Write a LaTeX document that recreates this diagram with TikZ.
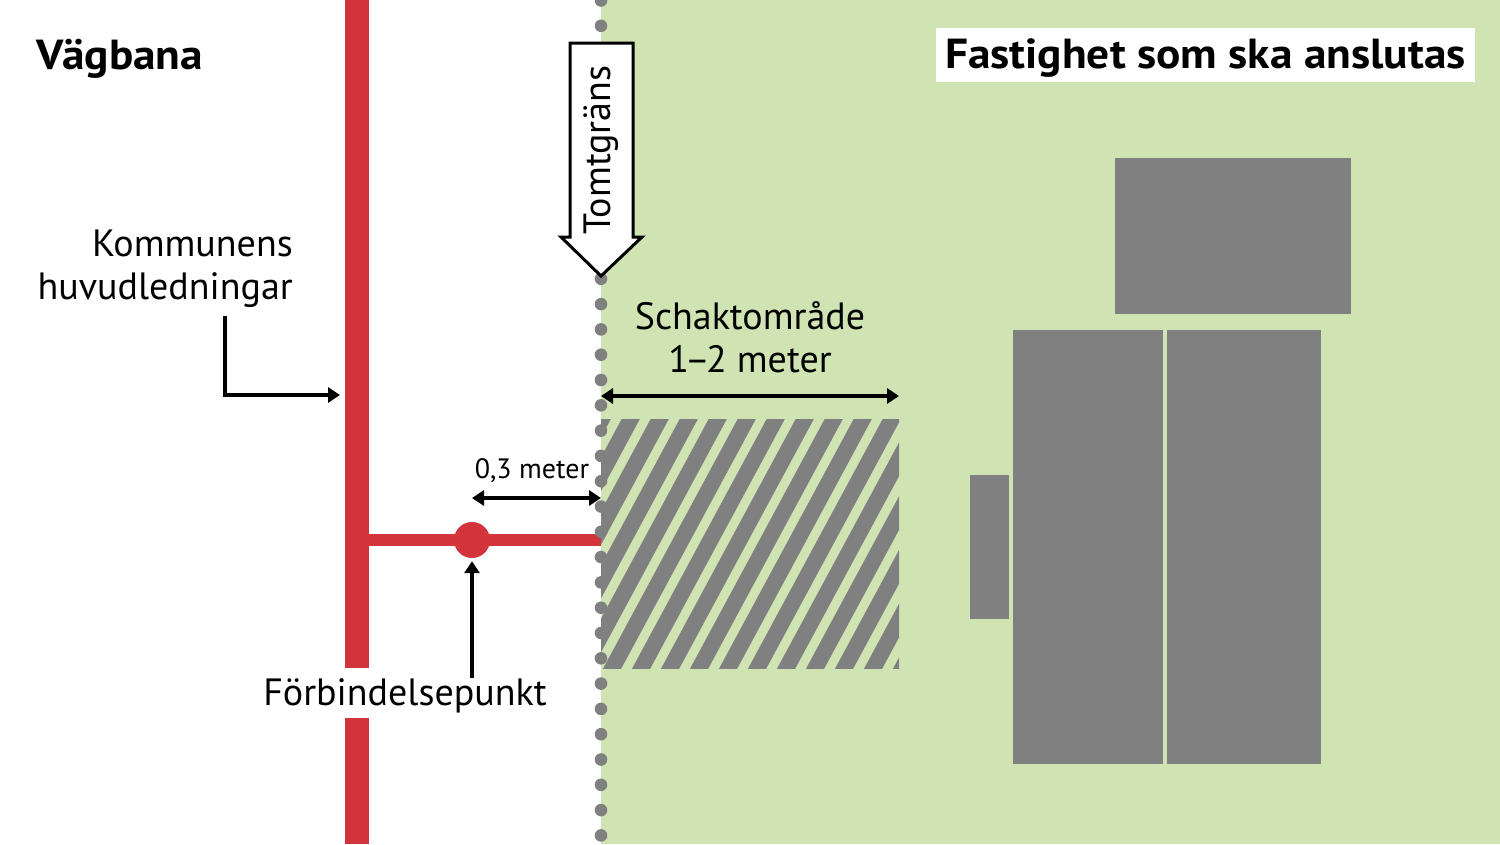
\documentclass[tikz,border=0pt]{standalone}
\usepackage{fontspec}
\setmainfont{PT Sans}
\newfontfamily\titlefont[FakeStretch=1.08]{PT Sans}
\usetikzlibrary{arrows.meta}
\definecolor{lawn}{RGB}{207,228,178}
\definecolor{pipe}{RGB}{209,52,59}
\definecolor{bgrey}{RGB}{128,128,128}
\tikzset{
  lbl/.style={font=\fontsize{38}{44}\selectfont, inner sep=0pt},
  ttl/.style={font=\titlefont\fontsize{42}{48}\selectfont\bfseries, inner sep=0pt},
  arr/.style={line width=4pt, -{Triangle[length=12pt,width=15pt]}},
  darr/.style={line width=4pt, {Triangle[length=12pt,width=15pt]}-{Triangle[length=12pt,width=15pt]}},
  house/.style={fill=bgrey},
}
\begin{document}
\begin{tikzpicture}[x=1pt,y=-1pt]
\useasboundingbox (0,0) rectangle (1500,844);
% ground
\fill[white] (0,0) rectangle (1500,844);
\fill[lawn] (601,0) rectangle (1500,844);
% buildings
\fill[house] (1115,158) rectangle (1351,314);
\fill[house] (1013,330) rectangle (1163,764);
\fill[house] (1167,330) rectangle (1321,764);
\fill[house] (970,475) rectangle (1009,619);
% excavation area
\begin{scope}
  \clip (601,419) rectangle (899,668);
  \foreach \k in {-8,...,12} {
    \draw[bgrey, line width=16pt] ({606+29*\k},680) -- ({606+29*\k+151},400);
  }
\end{scope}
% main pipe
\fill[pipe] (345,0) rectangle (369,668);
\fill[pipe] (345,718) rectangle (369,844);
\fill[pipe] (369,534) rectangle (601,546);
\node[circle, fill=pipe, minimum size=36pt, inner sep=0pt] (fp) at (472,540) {};
% property boundary dots
\foreach \k in {0,...,33} {
  \fill[bgrey] (601,{0.5+25.3*\k}) circle (6.3pt);
}
% Tomtgräns arrow
\draw[line width=3pt, fill=white, line join=miter]
  (570,43) -- (633,43) -- (633,237) -- (642,237) -- (601,276) -- (561,237) -- (570,237) -- cycle;
\node[lbl, rotate=90] (tomt) at (601,150) {Tomtgräns};
% titles
\node[ttl, anchor=base west] (road) at (36,69) {Vägbana};
\node[fill=white, minimum width=539pt, minimum height=54pt, ttl, text height=35pt, text depth=9pt] (prop) at (1205.5,55) {Fastighet som ska anslutas};
% labels
\node[lbl, anchor=base east] (kom1) at (293,256) {Kommunens};
\node[lbl, anchor=base east] (kom2) at (293,299) {huvudledningar};
\coordinate (komstart) at (225,316);
\coordinate (komend) at (340,395);
\draw[arr] (komstart) |- (komend);
\node[lbl, anchor=base] (fptext) at (405,705) {Förbindelsepunkt};
\coordinate (fpstart) at (472,678);
\draw[arr, shorten >=3pt] (fpstart) -- (fp.south);
\node[font=\fontsize{28}{32}\selectfont, inner sep=0pt, anchor=base] (dist) at (532,478) {0,3 meter};
\coordinate (d1) at (472,498);
\coordinate (d2) at (601,498);
\draw[darr] (d1) -- (d2);
\node[lbl, anchor=base] (sch1) at (750,329) {Schaktområde};
\node[lbl, anchor=base] (sch2) at (750,372) {1\kern-4pt–\kern-4pt2 meter};
\coordinate (s1) at (601,396);
\coordinate (s2) at (899,396);
\draw[darr] (s1) -- (s2);
\end{tikzpicture}
\end{document}
